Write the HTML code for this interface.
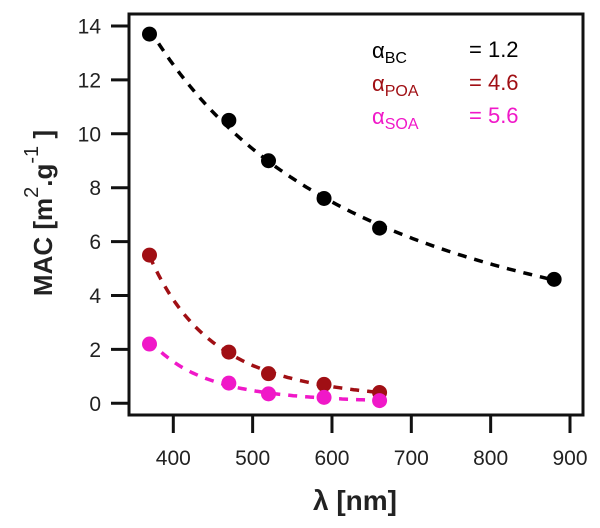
<!DOCTYPE html>
<html><head><meta charset="utf-8"><style>
body{margin:0;background:#fff;}
svg text{font-family:"Liberation Sans",Arial,sans-serif;}
</style></head><body>
<svg id="chart" width="600" height="523">
<g id="g"></g>
</svg>
<script>
const wavelengths=[370,470,520,590,660,880];
const bcValues=[13.7,10.5,9.0,7.6,6.5,4.6];
const poaWl=[370,470,520,590,660];
const poaValues=[5.5,1.9,1.1,0.7,0.4];
const soaWl=[370,470,520,590,660];
const soaValues=[2.2,0.75,0.35,0.22,0.1];
const xTicks=[400,500,600,700,800,900];
const yTicks=[0,2,4,6,8,10,12,14];
const legendNames=["BC","POA","SOA"];
const legendAlphas=["1.2","4.6","5.6"];

const L=129,R=583,T=14,B=415;
const X=v=>173.3+(v-400)*0.7934;
const Y=v=>403.3-v*26.95;
const NS="http://www.w3.org/2000/svg";
const g=document.getElementById('g');
function mk(t,a,p){const e=document.createElementNS(NS,t);for(const k in a)e.setAttribute(k,a[k]);(p||g).appendChild(e);return e;}

const frame=mk('rect',{x:L,y:T,width:R-L,height:B-T,fill:'none',stroke:'#111','stroke-width':3});


xTicks.forEach(v=>{
  const t=mk('line',{x1:X(v),x2:X(v),y1:B,y2:B+18,stroke:'#111','stroke-width':3});
  
  
  const l=mk('text',{x:X(v),y:465,'text-anchor':'middle','font-size':21,fill:'#222'});l.textContent=v;
  
  
});
yTicks.forEach(v=>{
  const t=mk('line',{x1:L-18,x2:L,y1:Y(v),y2:Y(v),stroke:'#111','stroke-width':3});
  
  
  const l=mk('text',{x:101,y:Y(v)+7.5,'text-anchor':'end','font-size':21,fill:'#222'});l.textContent=v;
  
  
});
const xt=mk('text',{x:355,y:510,'text-anchor':'middle','font-size':28,'font-weight':'bold',fill:'#222'});
xt.textContent='λ  [nm]';
xt.setAttribute('xml:space','preserve');


const yt=mk('text',{transform:'translate(52,213) rotate(-90)','text-anchor':'middle','font-size':26,'font-weight':'bold',fill:'#222'});
yt.setAttribute('xml:space','preserve');
yt.innerHTML='MAC  [m<tspan dy="-14" font-size="20" font-weight="normal">2</tspan><tspan dy="14">.g</tspan><tspan dy="-14" font-size="20" font-weight="normal">-1</tspan><tspan dy="14"> ]</tspan>';



function fit(xs,ys){
  const lx=xs.map(Math.log),ly=ys.map(Math.log),n=xs.length;
  const mx=lx.reduce((a,b)=>a+b)/n,my=ly.reduce((a,b)=>a+b)/n;
  let sxy=0,sxx=0;for(let i=0;i<n;i++){sxy+=(lx[i]-mx)*(ly[i]-my);sxx+=(lx[i]-mx)**2;}
  const b=sxy/sxx,a=my-b*mx;return x=>Math.exp(a+b*Math.log(x));
}
function series(xs,ys,color,name){
  const f=fit(xs,ys);let d='';
  const x0=xs[0],x1=xs[xs.length-1];
  for(let i=0;i<=80;i++){const x=x0+(x1-x0)*i/80;d+=(i?'L':'M')+X(x).toFixed(1)+','+Y(f(x)).toFixed(1);}
  const p=mk('path',{d:d,fill:'none',stroke:color,'stroke-width':3.5,'stroke-dasharray':'9,8'});
  
  
  xs.forEach((x,i)=>{
    const c=mk('circle',{cx:X(x),cy:Y(ys[i]),r:7.5,fill:color});
    
    
  });
}
series(wavelengths,bcValues,'#000','bc');
series(poaWl,poaValues,'#a00f14','poa');
series(soaWl,soaValues,'#f018c8','soa');

const cols=['#000','#a00f14','#f018c8'];
legendNames.forEach((n,i)=>{
  const y=58+i*33;
  const a=mk('text',{x:372,y:y,'font-size':22,fill:cols[i]});
  a.innerHTML='α<tspan font-size="16" dy="5">'+n+'</tspan>';
  
  
  const v=mk('text',{x:469,y:y-1,'font-size':22,fill:cols[i]});
  v.textContent='= '+legendAlphas[i];
  
  
});
</script>
</body></html>
